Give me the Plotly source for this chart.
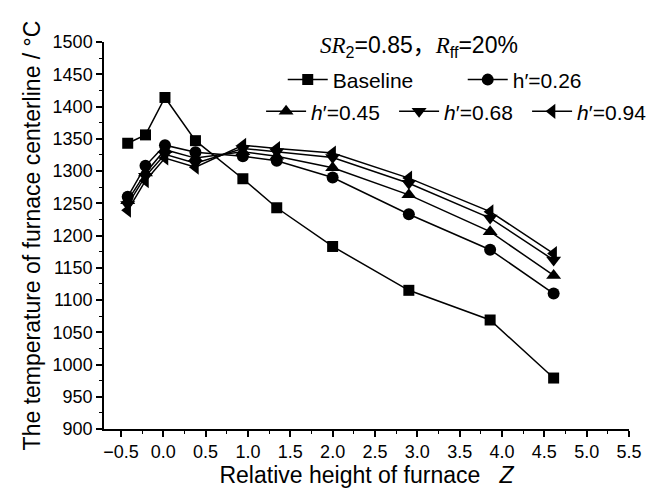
import plotly.graph_objects as go

# Relative furnace height Z for each sampling position
z = [-0.42, -0.21, 0.02, 0.38, 0.94, 1.34, 2.0, 2.9, 3.86, 4.61]

# Furnace centerline temperature (°C)
baseline = [1343, 1356, 1414, 1347, 1288, 1243, 1183, 1115, 1069, 979]
h026 = [1260, 1308, 1340, 1329, 1323, 1316, 1290, 1233, 1178, 1110]
h045 = [1254, 1297, 1333, 1320, 1330, 1323, 1305, 1263, 1206, 1138]
h068 = [1248, 1292, 1326, 1312, 1335, 1330, 1321, 1281, 1227, 1162]
h094 = [1239, 1285, 1320, 1306, 1340, 1335, 1328, 1289, 1237, 1172]

names = ["Baseline", "h′=0.26", "<i>h</i>′=0.45", "<i>h</i>′=0.68", "<i>h</i>′=0.94"]
series = [baseline, h026, h045, h068, h094]
symbols = ["square", "circle", "triangle-up", "triangle-down", "triangle-left"]
sizes = [11, 12, 13, 13, 13]
legends = ["legend", "legend", "legend2", "legend2", "legend2"]

FONT = "Liberation Sans, Arial, sans-serif"

fig = go.Figure()
for name, ys, sym, sz, lg in zip(names, series, symbols, sizes, legends):
    fig.add_trace(go.Scatter(
        x=z, y=ys, name=name, mode="lines+markers",
        line=dict(color="black", width=1.5),
        marker=dict(symbol=sym, size=sz, color="black"),
        legend=lg,
    ))

axis_common = dict(
    showline=True, linecolor="black", linewidth=1.5,
    ticks="outside", ticklen=6, tickwidth=1.5, tickcolor="black",
    showgrid=False, zeroline=False,
    tickfont=dict(family=FONT, size=18, color="black"),
    mirror=False,
)

legend_common = dict(
    orientation="h", xref="container", yref="container",
    xanchor="left", yanchor="top",
    font=dict(family=FONT, size=21, color="black"),
    bgcolor="rgba(0,0,0,0)", itemwidth=40, traceorder="normal",
)

serif = "font-family:'Liberation Serif';color:black"

fig.update_layout(
    width=656, height=504,
    margin=dict(l=104, r=27, t=42, b=75, autoexpand=False),
    paper_bgcolor="white", plot_bgcolor="white",
    font=dict(family=FONT, color="black"),
    xaxis=dict(
        range=[-0.7, 5.5], tick0=-0.5, dtick=0.5, tickformat=".1f",
        minor=dict(dtick=0.25, ticks="outside", ticklen=3, tickcolor="black", tickwidth=1.2),
        title=dict(text="Relative height of furnace \u00a0 <i>Z</i>",
                   font=dict(family=FONT, size=23, color="black"), standoff=2),
        **axis_common,
    ),
    yaxis=dict(
        range=[900, 1500], tick0=900, dtick=50,
        minor=dict(dtick=25, ticks="outside", ticklen=3, tickcolor="black", tickwidth=1.2),
        title=dict(text="The temperature of furnace centerline / °C",
                   font=dict(family=FONT, size=23, color="black"), standoff=6),
        **axis_common,
    ),
    legend=dict(x=0.431, y=0.882, entrywidth=125, **legend_common),
    legend2=dict(x=0.398, y=0.819, entrywidth=78, **legend_common),
    annotations=[dict(
        x=0.60, y=0.995, xref="paper", yref="paper", showarrow=False,
        xanchor="center", yanchor="middle",
        text=(f"<span style=\"{serif}\"><i>SR</i></span><sub>2</sub>=0.85"
              "<span style=\"font-family:'Noto Sans CJK SC';color:black\">，</span>"
              f"<span style=\"{serif}\"><i>R</i></span><sub>ff</sub>=20%"),
        font=dict(family=FONT, size=23, color="black"),
    )],
)

fig.write_html("out.html")
